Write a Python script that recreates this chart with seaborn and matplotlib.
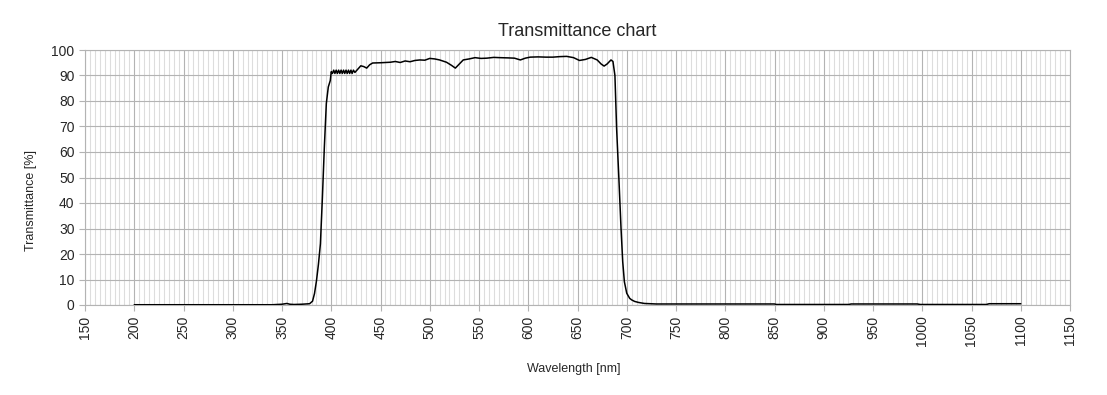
import numpy as np
import pandas as pd
import matplotlib
matplotlib.use('Agg')
import matplotlib.pyplot as plt
import seaborn as sns
from matplotlib.ticker import MultipleLocator

# wavelength [nm] and transmittance [%]
wavelength = [200, 250, 300, 340, 345, 350, 355, 358, 362, 370, 378, 381, 383, 385,
              387, 389, 391, 393, 395, 397, 399,
              400, 401.2, 402.5, 403.7, 405, 406.2, 407.5, 408.7, 410, 411.2,
              412.5, 413.7, 415, 416.2, 417.5, 418.7, 420, 421.2, 422.5, 424,
              427, 430, 433, 436, 439, 442, 450, 460, 465, 470, 475, 480, 485,
              490, 495, 500, 505, 510, 517, 522, 526, 530, 534, 540, 546, 552,
              558, 565, 571, 580, 586, 592, 597, 602, 610, 618, 625, 632, 639,
              646, 652, 658, 664, 670, 674, 677, 680, 684, 686, 688, 689.7, 692,
              694.2, 695.9, 697.6, 700, 703, 705, 708, 712, 718, 730, 780, 850,
              852, 925, 928, 995, 998, 1065, 1068, 1100]
transmittance = [0.1, 0.1, 0.1, 0.1, 0.2, 0.3, 0.6, 0.3, 0.2, 0.3, 0.5, 1.5, 4.5, 9.5,
                 16, 24, 42, 62, 79, 85.5, 88,
                 91.5, 90.8, 92.1, 90.8, 92.1, 90.8, 92.1, 90.8, 92.1, 90.8,
                 92.1, 90.8, 92.1, 90.8, 92.1, 90.8, 92.1, 90.8, 92.1, 91.2,
                 92.5, 93.8, 93.5, 92.9, 94.2, 94.9, 95.0, 95.2, 95.5, 95.1, 95.7, 95.4, 95.9,
                 96.1, 96.0, 96.7, 96.5, 96.1, 95.2, 94.0, 92.9, 94.5, 96.1, 96.5, 97.0, 96.7,
                 96.8, 97.1, 97.0, 96.9, 96.8, 96.1, 96.8, 97.2, 97.3, 97.2, 97.2, 97.4, 97.5,
                 97.0, 95.9, 96.3, 97.1, 96.1, 94.5, 93.7, 94.5, 96.1, 95.5, 90.0, 69.3, 49.7,
                 30.0, 17.0, 9.1, 4.6, 2.6, 2.0, 1.4, 1.0, 0.6, 0.4, 0.4, 0.4,
                 0.2, 0.2, 0.4, 0.4, 0.2, 0.2, 0.5, 0.5]

x_ticks = list(range(150, 1151, 50))
y_ticks = list(range(0, 101, 10))

df = pd.DataFrame({'Wavelength': wavelength, 'Transmittance': transmittance})

sns.set_style('white')
plt.rcParams['font.family'] = ['Liberation Sans', 'DejaVu Sans']

fig = plt.figure(figsize=(11.07, 3.95), dpi=100)
ax = fig.add_axes([85 / 1107, 1 - 305 / 395, 985 / 1107, 255 / 395])

sns.lineplot(data=df, x='Wavelength', y='Transmittance', color='black',
             linewidth=1.1, ax=ax, zorder=3)

ax.set_xlim(150, 1150)
ax.set_ylim(0, 100)
ax.set_xticks(x_ticks)
ax.set_yticks(y_ticks)
ax.xaxis.set_minor_locator(MultipleLocator(5))
ax.grid(which='major', color='#b3b3b3', linewidth=0.8, zorder=0)
ax.grid(which='minor', axis='x', color='#dddddd', linewidth=0.8, zorder=0)
ax.tick_params(axis='x', which='major', labelrotation=90, labelsize=10,
               length=4, color='#b3b3b3', direction='out', bottom=True)
ax.tick_params(axis='y', which='major', labelsize=10, length=4,
               color='#b3b3b3', direction='out', left=True)
ax.tick_params(which='minor', length=0)
for s in ax.spines.values():
    s.set_color('#b3b3b3')
    s.set_linewidth(0.8)

ax.set_title('Transmittance chart', fontsize=13, pad=10)
ax.set_xlabel('Wavelength [nm]', fontsize=9)
ax.set_ylabel('Transmittance [%]', fontsize=9)
ax.xaxis.set_label_coords(0.496, -0.227)
ax.yaxis.set_label_coords(-0.049, 0.41)

fig.savefig('out.png', dpi=100)
